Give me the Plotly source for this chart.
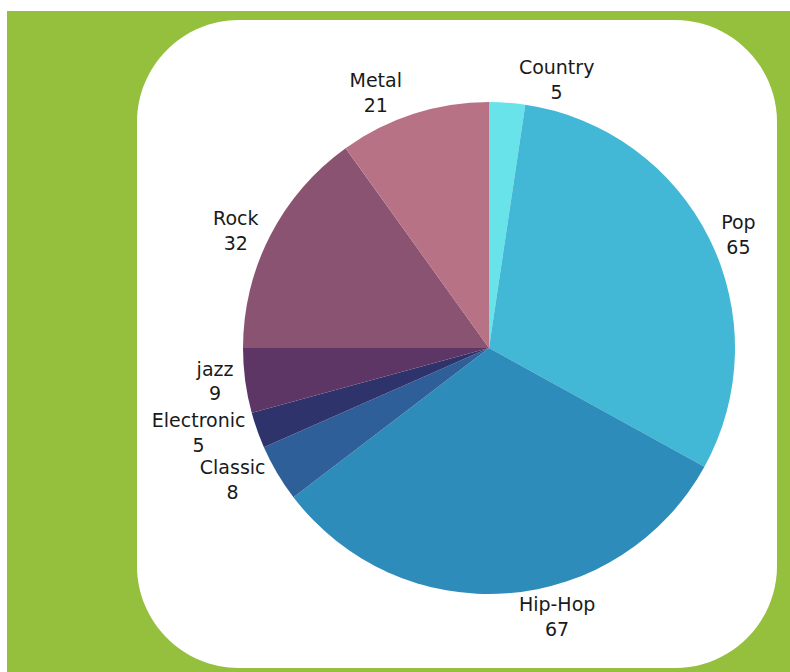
import plotly.graph_objects as go

genres = ["Country", "Pop", "Hip-Hop", "Classic", "Electronic", "jazz", "Rock", "Metal"]
counts = [5, 65, 67, 8, 5, 9, 32, 21]
colors = ["#68e3e9", "#42b7d6", "#2e8cba", "#2f5f99", "#2f336c", "#5e3665", "#8a5371", "#b87285"]

W, H = 790, 672

def px(x):
    return x / W

def py(y):
    return 1 - y / H

# rounded white panel (pixel coords -> paper)
x0, x1, y0, y1, r = 137, 777, 20, 668, 102
k = 0.45
path = (
    f"M {px(x0 + r)},{py(y0)} "
    f"L {px(x1 - r)},{py(y0)} "
    f"C {px(x1 - r * k)},{py(y0)} {px(x1)},{py(y0 + r * k)} {px(x1)},{py(y0 + r)} "
    f"L {px(x1)},{py(y1 - r)} "
    f"C {px(x1)},{py(y1 - r * k)} {px(x1 - r * k)},{py(y1)} {px(x1 - r)},{py(y1)} "
    f"L {px(x0 + r)},{py(y1)} "
    f"C {px(x0 + r * k)},{py(y1)} {px(x0)},{py(y1 - r * k)} {px(x0)},{py(y1 - r)} "
    f"L {px(x0)},{py(y0 + r)} "
    f"C {px(x0)},{py(y0 + r * k)} {px(x0 + r * k)},{py(y0)} {px(x0 + r)},{py(y0)} Z"
)

fig = go.Figure(
    go.Pie(
        labels=genres,
        values=counts,
        marker=dict(colors=colors, line=dict(width=0)),
        sort=False,
        direction="clockwise",
        rotation=0,
        texttemplate="%{label}<br>%{value}",
        textposition="outside",
        outsidetextfont=dict(family="DejaVu Sans", size=19, color="#1a1a1a"),
        hoverinfo="skip",
        showlegend=False,
        domain=dict(x=[px(243), px(735)], y=[py(594), py(102)]),
    )
)

fig.update_layout(
    width=W,
    height=H,
    margin=dict(l=0, r=0, t=0, b=0),
    paper_bgcolor="white",
    plot_bgcolor="white",
    shapes=[
        dict(type="rect", xref="paper", yref="paper", x0=px(7), x1=1.01, y0=-0.01, y1=py(11),
             fillcolor="#95c03d", line=dict(width=0), layer="below"),
        dict(type="path", xref="paper", yref="paper", path=path,
             fillcolor="white", line=dict(width=0), layer="below"),
    ],
)

fig.write_html(
    "out.html",
    config={"displayModeBar": False},
    post_script=(
        "document.body.style.margin='0';document.body.style.overflow='hidden';"
        "var s=document.createElement('style');s.textContent='path.textline{display:none}';"
        "document.head.appendChild(s);"
    ),
)
